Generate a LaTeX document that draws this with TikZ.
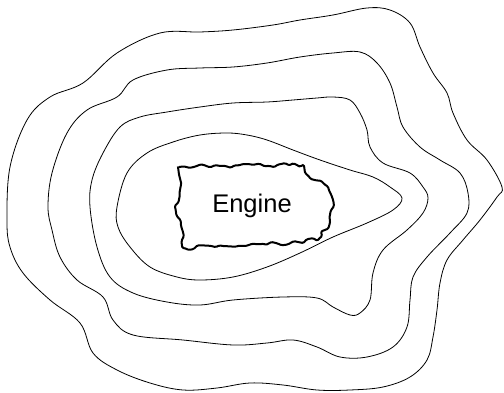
\documentclass[tikz,border=0pt]{standalone}
\usepackage{fontspec}
\setmainfont{Liberation Sans}
\usetikzlibrary{decorations.pathmorphing}

\begin{document}
\begin{tikzpicture}[x=1pt, y=-1pt,
  contour/.style={draw=black, line width=0.8pt, line join=round},
  engineline/.style={draw=black, line width=2pt, line join=round,
    decorate, decoration={random steps, segment length=5pt, amplitude=2.3pt},
    rounded corners=1.2pt},
  label/.style={font=\fontsize{25.5}{30}\selectfont}]
\useasboundingbox (0,0) rectangle (504,393);
\pgfmathsetseed{7}

% outermost line
\draw[contour] plot[smooth cycle, tension=0.6] coordinates {
  (7,220) (10,167) (27,120) (50,97) (83,83) (117,53) (160,33) (200,32)
  (233,30) (273,25) (300,20) (333,15) (367,8) (390,10) (410,23) (420,47)
  (433,73) (447,93) (453,113) (467,140) (487,160) (502,187) (497,197)
  (480,220) (463,240) (447,260) (440,283) (437,310) (433,337) (427,360)
  (410,377) (383,387) (350,390) (317,390) (283,385) (250,383) (217,388)
  (183,390) (150,383) (117,370) (93,353) (80,323) (50,300) (23,273) (10,247)};

% third line
\draw[contour] plot[smooth cycle, tension=0.6] coordinates {
  (48,207) (52,173) (67,133) (87,110) (117,97) (133,80) (167,70) (200,68)
  (233,67) (267,63) (300,57) (333,53) (360,52) (377,63) (390,83) (397,107)
  (403,127) (420,147) (440,160) (460,173) (468,193) (467,213) (450,233)
  (427,257) (413,277) (410,300) (407,327) (393,347) (367,357) (340,357)
  (317,347) (293,340) (267,343) (233,345) (183,340) (133,335) (113,320)
  (103,297) (77,280) (60,257) (52,230)};

% second line
\draw[contour] plot[smooth cycle, tension=0.6] coordinates {
  (90,207) (92,180) (103,153) (120,127) (140,117) (167,112) (200,107)
  (233,103) (267,102) (293,100) (317,98) (333,97) (350,100) (360,113)
  (367,130) (370,147) (383,163) (410,173) (423,187) (428,198) (423,213)
  (407,230) (383,250) (373,273) (370,300) (360,313) (350,315) (333,307)
  (317,298) (283,297) (233,300) (200,305) (167,302) (133,293) (110,277)
  (97,247)};

% first line
\draw[contour] plot[smooth cycle, tension=0.6] coordinates {
  (117,207) (127,173) (147,153) (173,142) (200,135) (227,133) (247,135)
  (267,140) (293,150) (320,160) (350,170) (373,177) (390,187) (402,198)
  (393,210) (367,223) (333,237) (300,253) (267,267) (233,277) (200,280)
  (177,277) (150,267) (130,247) (118,227)};

% engine
\draw[engineline] (178,167) -- (303,165) -- (310,178) -- (327,186)
  -- (333,200) -- (330,222) -- (318,240) -- (245,246) -- (183,248)
  -- (181,225) -- (175,207) -- (181,185) -- cycle;
\node[label] (engine) at (252,206) {Engine};
\end{tikzpicture}
\end{document}
